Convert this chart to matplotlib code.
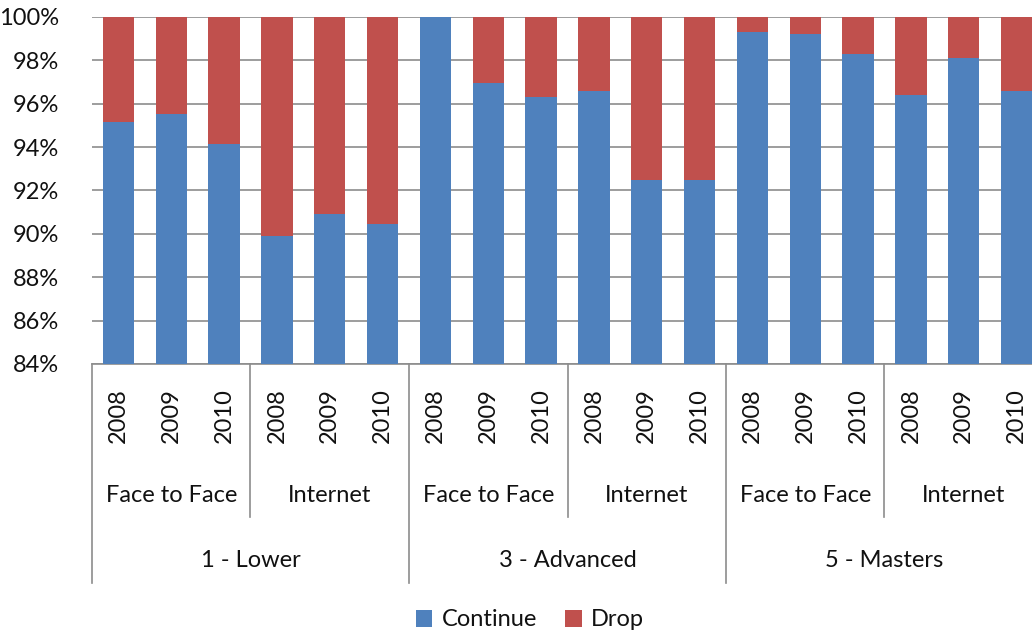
import matplotlib
matplotlib.use("Agg")
import matplotlib.pyplot as plt
from matplotlib.patches import Patch
from matplotlib.ticker import FuncFormatter

plt.rcParams['font.family'] = ['Lato', 'DejaVu Sans']

levels = ["1 - Lower", "3 - Advanced", "5 - Masters"]
modes = ["Face to Face", "Internet"]
years = ["2008", "2009", "2010"]

continue_pct = [95.16, 95.53, 94.16, 89.92, 90.92, 90.45,
                100.0, 96.94, 96.30, 96.59, 92.50, 92.50,
                99.31, 99.23, 98.31, 96.41, 98.13, 96.59]
drop_pct = [100 - v for v in continue_pct]

blue = "#4F81BD"
red = "#C0504D"
grid_c = "#8C8C8C"
txt_c = "#111111"
fs = 17

fig = plt.figure(figsize=(10.32, 6.35), dpi=100)
W, H = 1032, 635
left, right, top, bottom = 92, 1043, 17, 364
ax = fig.add_axes([left / W, 1 - bottom / H, (right - left) / W, (bottom - top) / H])

n = len(continue_pct)
x = list(range(n))
ax.bar(x, continue_pct, width=0.59, color=blue, zorder=3)
ax.bar(x, drop_pct, bottom=continue_pct, width=0.59, color=red, zorder=3)

ax.set_ylim(84, 100)
ax.set_xlim(-0.5, n - 0.5)
ax.set_yticks(range(84, 101, 2))
ax.yaxis.set_major_formatter(FuncFormatter(lambda v, p: f"{int(v)}%"))
ax.tick_params(axis='y', length=0, pad=24, labelsize=fs, labelcolor=txt_c)
ax.set_xticks([])
ax.grid(axis='y', color=grid_c, linewidth=1.2, zorder=0)
for s in ['left', 'right', 'top']:
    ax.spines[s].set_visible(False)
ax.spines['bottom'].set_color(grid_c)
ax.spines['bottom'].set_linewidth(1.2)

tr = ax.get_xaxis_transform()
ah = bottom - top
def yf(py):
    return (bottom - py) / ah

for i in range(n):
    ax.text(i, yf(416), years[i % 3], rotation=90, ha='center', va='center',
            fontsize=fs, color=txt_c, transform=tr, clip_on=False)
for g in range(6):
    ax.text(g * 3 + 1, yf(495), modes[g % 2], ha='center', va='center',
            fontsize=fs, color=txt_c, transform=tr, clip_on=False)
for g in range(3):
    ax.text(g * 6 + 2.5, yf(560), levels[g], ha='center', va='center',
            fontsize=fs, color=txt_c, transform=tr, clip_on=False)

for g in range(6):
    xb = g * 3 - 0.5
    yb = yf(583) if g % 2 == 0 else yf(517)
    ax.plot([xb, xb], [0, yb], color=grid_c, linewidth=1.2, transform=tr, clip_on=False)
ax.plot([n - 0.5, n - 0.5], [0, yf(583)], color=grid_c, linewidth=1.2, transform=tr, clip_on=False)

handles = [Patch(facecolor=blue, label="Continue"), Patch(facecolor=red, label="Drop")]
fig.legend(handles=handles, loc='center', bbox_to_anchor=(530 / W, 1 - 620 / H), ncol=2,
           frameon=False, fontsize=fs, handlelength=0.7, handleheight=0.7,
           handletextpad=0.4, columnspacing=1.2, labelcolor=txt_c)

fig.savefig("out.png", dpi=100)
